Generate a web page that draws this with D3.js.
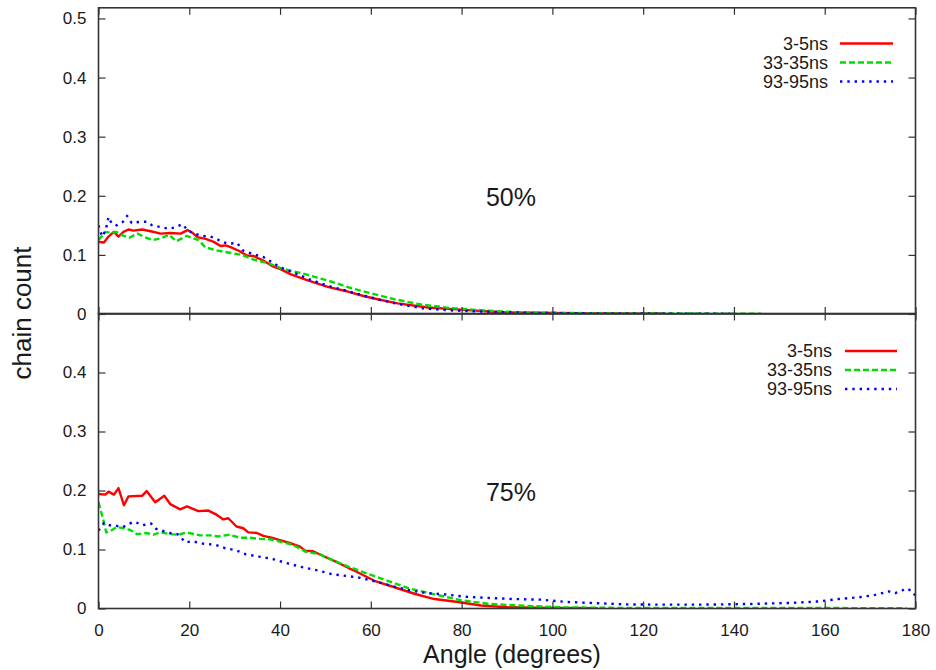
<!DOCTYPE html>
<html>
<head>
<meta charset="utf-8">
<script src="https://cdn.jsdelivr.net/npm/d3@7"></script>
<style>
  html, body { margin: 0; padding: 0; background: #fff; }
  svg { display: block; font-family: "Liberation Sans", Arial, Helvetica, sans-serif; }
</style>
</head>
<body>
<svg id="chart" width="936" height="670"></svg>
<script>
// Chain orientation distributions, two loadings, three time windows each.
const seriesNames = ["3-5ns", "33-35ns", "93-95ns"];
const panelLabels = ["50%", "75%"];
const xTicks = [0, 20, 40, 60, 80, 100, 120, 140, 160, 180];
const yTicksTop = [0, 0.1, 0.2, 0.3, 0.4, 0.5];
const yTicksBottom = [0, 0.1, 0.2, 0.3, 0.4];

// [angle (deg), chain count]
const red50 = [[0,0.122],[1.2,0.121],[2.2,0.131],[3.4,0.139],[4.4,0.131],[5.5,0.139],[6.6,0.143],[7.7,0.141],[9.6,0.143],[11.5,0.140],[13.7,0.136],[15.9,0.137],[18.1,0.136],[19.6,0.142],[20.8,0.137],[21.8,0.130],[23.6,0.127],[25.4,0.122],[26.9,0.115],[28,0.116],[29.1,0.113],[30.9,0.107],[32.7,0.099],[34.2,0.098],[36.4,0.090],[38.5,0.080],[40.1,0.076],[42.4,0.067],[46.1,0.057],[50.5,0.046],[54.9,0.038],[58.6,0.030],[61.5,0.025],[65.9,0.018],[72.6,0.011],[80.6,0.007],[88.7,0.003],[99.8,0.0017],[110,0.001],[125,0.0005]];
const green50 = [[0,0.125],[1.5,0.139],[2.8,0.137],[3.9,0.139],[5.3,0.133],[6.8,0.129],[8.6,0.136],[10.2,0.130],[11.9,0.125],[13.7,0.128],[15.6,0.134],[17.1,0.123],[19.4,0.132],[22.1,0.125],[23.5,0.113],[25.7,0.108],[28.6,0.104],[31.6,0.100],[34.2,0.092],[37.8,0.085],[40,0.078],[42.5,0.073],[45.3,0.068],[48,0.062],[51.2,0.055],[55.6,0.044],[60,0.035],[65.2,0.025],[71.1,0.016],[77.7,0.010],[85,0.006],[92,0.003],[99.8,0.002],[115,0.001],[130,0.0008],[146,0.0005]];
const blue50 = [[0,0.150],[0.8,0.131],[1.6,0.142],[2.2,0.164],[2.9,0.153],[4,0.150],[5.4,0.156],[6.3,0.166],[7.3,0.154],[9.2,0.156],[10.6,0.156],[11.8,0.150],[13.7,0.147],[15.5,0.144],[17,0.147],[18.5,0.152],[19.6,0.142],[21,0.136],[22.9,0.132],[24.7,0.131],[26.5,0.125],[28.4,0.119],[30.6,0.120],[31.7,0.108],[34.2,0.101],[36.4,0.096],[38.3,0.087],[40,0.079],[43,0.070],[46,0.060],[50.4,0.048],[54.8,0.039],[59,0.030],[62,0.024],[65.9,0.017],[72,0.009],[78,0.006],[85,0.004],[95,0.002],[110,0.001],[125,0.0007],[140,0.0005]];

const red75 = [[0,0.194],[1.5,0.193],[2.2,0.198],[3.4,0.193],[4.4,0.204],[5.6,0.175],[6.6,0.190],[9.6,0.191],[10.6,0.199],[12.5,0.180],[14.5,0.191],[15.8,0.177],[18,0.168],[19.5,0.173],[22,0.165],[24.2,0.166],[26,0.159],[27.5,0.151],[28.6,0.153],[30.4,0.139],[31.9,0.136],[33,0.129],[34.9,0.128],[36.3,0.123],[38.1,0.120],[40,0.116],[42.1,0.111],[44.4,0.105],[45.5,0.098],[47.3,0.097],[49.5,0.089],[52.4,0.079],[55,0.069],[56.4,0.064],[60.8,0.047],[65.2,0.036],[69.6,0.025],[74,0.016],[79.2,0.011],[84.3,0.005],[90.2,0.002],[100,0.001],[110,0.0005]];
const green75 = [[0,0.180],[1.1,0.149],[1.7,0.129],[2.6,0.131],[4,0.138],[5.5,0.136],[7,0.133],[8.5,0.126],[10.6,0.128],[12.1,0.125],[13.5,0.129],[15.8,0.126],[17.6,0.125],[19.4,0.129],[22.4,0.124],[24.6,0.124],[26.3,0.122],[28.9,0.125],[31.1,0.120],[33.3,0.120],[35.5,0.118],[38,0.117],[40.2,0.113],[42.8,0.108],[45.7,0.096],[48.7,0.092],[51.6,0.082],[55,0.071],[59.3,0.059],[63.7,0.047],[68.9,0.033],[74,0.024],[79.9,0.014],[85.8,0.008],[92.4,0.005],[102,0.002],[115,0.001],[140,0.0008],[160,0.0008],[178,0.0005]];
const blue75 = [[0,0.132],[1.2,0.145],[2.5,0.141],[4,0.140],[5.4,0.138],[6.8,0.144],[8,0.147],[9.7,0.141],[11.6,0.144],[12.7,0.135],[15.6,0.128],[17.4,0.126],[19.2,0.112],[20.7,0.114],[22.9,0.110],[25.8,0.108],[28,0.102],[30.2,0.099],[32.4,0.092],[35.3,0.088],[38.3,0.084],[41.9,0.076],[44.9,0.070],[48.6,0.064],[51.5,0.058],[54.8,0.055],[57.7,0.052],[61.4,0.045],[65.2,0.037],[68.9,0.030],[72.5,0.026],[76.2,0.024],[80.6,0.020],[85.7,0.018],[91.6,0.016],[97.4,0.015],[103.3,0.011],[109.9,0.009],[116,0.007],[123.3,0.0065],[130.7,0.0065],[138,0.007],[145.4,0.008],[152.8,0.0095],[158.6,0.012],[163,0.016],[167.5,0.019],[171.1,0.023],[174.1,0.029],[175.5,0.026],[177,0.030],[177.8,0.034],[179.2,0.030],[180,0.021]];

const seriesStyle = [
  { color: "#ff0000", dash: null },
  { color: "#00dd00", dash: "6,3" },
  { color: "#0000ff", dash: "2.4,4.9" }
];

const svg = d3.select("#chart");
const frameColor = "#333";
const textColor = "#1a1a1a";
const tickLen = 7;

const x = d3.scaleLinear().domain([0, 180]).range([98.5, 915.5]);

const panels = [
  { label: panelLabels[0], data: [red50, green50, blue50], yTicks: yTicksTop,
    y: d3.scaleLinear().domain([0, 0.518]).range([314, 7.8]),
    legend: { textX: 828, lineX0: 840, lineX1: 893, y0: 43.5 }, labelY: 197 },
  { label: panelLabels[1], data: [red75, green75, blue75], yTicks: yTicksBottom,
    y: d3.scaleLinear().domain([0, 0.5]).range([608.5, 313.5]),
    legend: { textX: 832, lineX0: 845, lineX1: 897, y0: 351 }, labelY: 492 }
];

panels.forEach((p, i) => {
  const [yBot, yTop] = p.y.range();
  const g = svg.append("g");
  const clipId = "clip" + i;
  svg.append("clipPath").attr("id", clipId)
    .append("rect")
    .attr("x", x.range()[0]).attr("y", yTop)
    .attr("width", x.range()[1] - x.range()[0]).attr("height", yBot - yTop);

  // curves
  const line = d3.line().x(d => x(d[0])).y(d => p.y(d[1]));
  p.data.forEach((d, k) => {
    g.append("path")
      .datum(d)
      .attr("clip-path", `url(#${clipId})`)
      .attr("fill", "none")
      .attr("stroke", seriesStyle[k].color)
      .attr("stroke-width", 2.4)
      .attr("stroke-linejoin", "round")
      .attr("stroke-dasharray", seriesStyle[k].dash)
      .attr("d", line);
  });

  // left axis with inward ticks
  const yAxis = d3.axisLeft(p.y).tickValues(p.yTicks)
    .tickSize(-tickLen).tickPadding(12)
    .tickFormat(v => v === 0 ? "0" : d3.format(".1f")(v));
  const ya = g.append("g").attr("transform", `translate(${x.range()[0]},0)`).call(yAxis);
  // right mirrored ticks
  const ya2 = g.append("g").attr("transform", `translate(${x.range()[1]},0)`)
    .call(d3.axisRight(p.y).tickValues(p.yTicks).tickSize(-tickLen).tickFormat(""));
  // bottom ticks (labels only on lowest panel)
  const xb = g.append("g").attr("transform", `translate(0,${yBot})`)
    .call(d3.axisBottom(x).tickValues(xTicks).tickSize(-tickLen).tickPadding(15)
      .tickFormat(i === panels.length - 1 ? d3.format("d") : ""));
  // top mirrored ticks
  const xt = g.append("g").attr("transform", `translate(0,${yTop})`)
    .call(d3.axisTop(x).tickValues(xTicks).tickSize(-tickLen).tickFormat(""));

  [ya, ya2, xb, xt].forEach(a => {
    a.select(".domain").remove();
    a.selectAll(".tick line").attr("stroke", frameColor).attr("stroke-width", 1.2);
    a.selectAll(".tick text").attr("fill", textColor).style("font-size", "17px")
      .style("font-family", "'Liberation Sans', Arial, sans-serif");
  });

  // frame
  g.append("rect")
    .attr("x", x.range()[0]).attr("y", yTop)
    .attr("width", x.range()[1] - x.range()[0]).attr("height", yBot - yTop)
    .attr("fill", "none").attr("stroke", frameColor).attr("stroke-width", 1.6);

  // panel label
  g.append("text").attr("x", 511).attr("y", p.labelY).attr("dy", "0.36em")
    .attr("text-anchor", "middle").attr("fill", textColor)
    .style("font-size", "25px").text(p.label);

  // legend
  seriesNames.forEach((name, k) => {
    const yy = p.legend.y0 + k * 19;
    g.append("text").attr("x", p.legend.textX).attr("y", yy).attr("dy", "0.36em")
      .attr("text-anchor", "end").attr("fill", textColor)
      .style("font-size", "18px").text(name);
    g.append("line").attr("x1", p.legend.lineX0).attr("x2", p.legend.lineX1)
      .attr("y1", yy).attr("y2", yy)
      .attr("stroke", seriesStyle[k].color).attr("stroke-width", 2.4)
      .attr("stroke-dasharray", seriesStyle[k].dash);
  });
});

// axis titles
svg.append("text").attr("x", 512).attr("y", 663)
  .attr("text-anchor", "middle").attr("fill", textColor)
  .style("font-size", "25px").text("Angle (degrees)");
svg.append("text")
  .attr("transform", "translate(31,313) rotate(-90)")
  .attr("text-anchor", "middle").attr("fill", textColor)
  .style("font-size", "26px").text("chain count");
</script>
</body>
</html>
